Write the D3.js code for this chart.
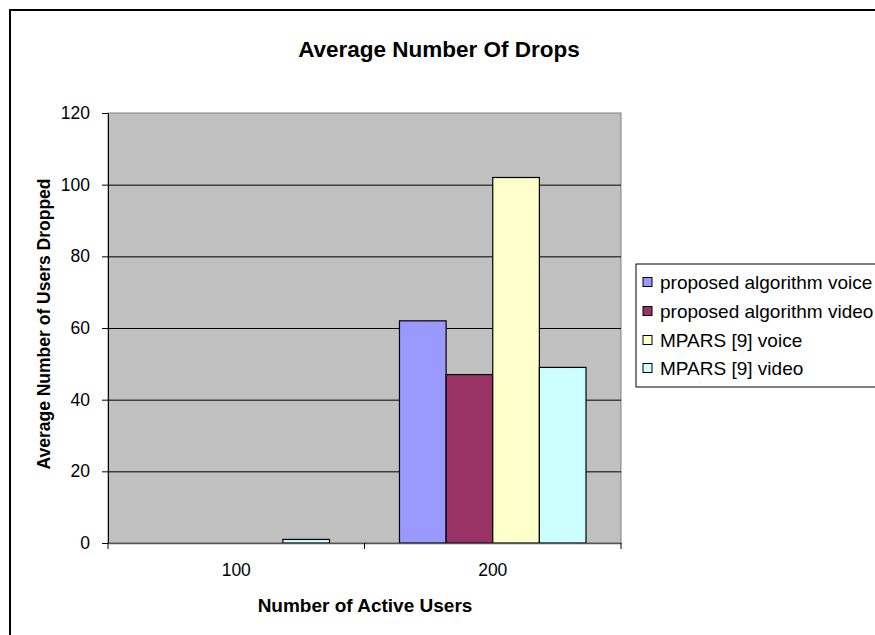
<html>
<head>
  <script src="https://d3js.org/d3.v7.min.js"></script>
  <style>
    body { margin: 0; background: #fff; }
    svg text { font-family: Arial, "Liberation Sans", sans-serif; }
    .tick text { font-size: 17.5px; fill: #000; }
    .gridlines line { stroke: #000; }
    .gridlines .domain { stroke: none; }
  </style>
</head>
<body>
<svg id="chart" width="875" height="635"></svg>
<script>
  // data
  const categories = ["100", "200"];
  const seriesNames = ["proposed algorithm voice", "proposed algorithm video", "MPARS [9] voice", "MPARS [9] video"];
  const seriesColors = ["#9999FF", "#993366", "#FFFFCC", "#CCFFFF"];
  const values = [
    [0, 62],   // proposed algorithm voice
    [0, 47],   // proposed algorithm video
    [0, 102],  // MPARS [9] voice
    [1, 49]    // MPARS [9] video
  ];
  const yTicks = [0, 20, 40, 60, 80, 100, 120];

  const svg = d3.select("svg#chart");
  const plot = {left: 108, top: 113, right: 621, bottom: 543};

  // outer frame (runs off the page on the right and bottom)
  svg.append("rect").attr("x", 10).attr("y", 10).attr("width", 900).attr("height", 700)
     .attr("fill", "#fff").attr("stroke", "#000").attr("stroke-width", 2);

  const x0 = d3.scaleBand().domain(categories).range([plot.left, plot.right]).padding(0);
  const bw = x0.bandwidth();
  const x1 = d3.scaleBand().domain(seriesNames)
               .range([bw * 0.75 / 5.5, bw * 4.75 / 5.5]).padding(0);
  const y = d3.scaleLinear().domain([0, 120]).range([plot.bottom, plot.top]);

  // plot background
  svg.append("rect").attr("x", plot.left).attr("y", plot.top)
     .attr("width", plot.right - plot.left).attr("height", plot.bottom - plot.top)
     .attr("fill", "#C0C0C0").attr("stroke", "#808080").attr("stroke-width", 1);

  // gridlines
  svg.append("g").attr("class", "gridlines")
     .attr("transform", "translate(" + plot.left + ",0)")
     .call(d3.axisLeft(y).tickValues(yTicks.slice(1, -1)).tickFormat("").tickSize(-(plot.right - plot.left)));

  // bars
  seriesNames.forEach((s, si) => {
    svg.append("g").selectAll("rect")
       .data(categories)
       .join("rect")
       .attr("x", c => x0(c) + x1(s))
       .attr("y", (c, ci) => y(values[si][ci]))
       .attr("width", x1.bandwidth())
       .attr("height", (c, ci) => y(0) - y(values[si][ci]))
       .attr("fill", seriesColors[si])
       .attr("stroke", "#000")
       .attr("stroke-width", 1.2)
       .style("display", (c, ci) => values[si][ci] > 0 ? null : "none");
  });

  // y axis
  let leftAxis = svg.append("g").attr("transform", "translate(" + plot.left + ",0)")
     .call(d3.axisLeft(y).tickValues(yTicks).tickSize(6).tickPadding(12).tickSizeOuter(0));
  leftAxis.select(".domain").attr("stroke", "#000");
  leftAxis.selectAll(".tick line").attr("stroke", "#000");

  // x axis: ticks at category boundaries
  let bottomAxis = svg.append("g").attr("transform", "translate(0," + plot.bottom + ")")
     .call(d3.axisBottom(x0).tickSize(0).tickPadding(21));
  bottomAxis.select(".domain").attr("stroke", "#555").attr("stroke-width", 1.5);
  bottomAxis.selectAll(".tick text").attr("dy", "0.71em");
  const bounds = categories.map(c => x0(c)).concat([x0(categories[categories.length - 1]) + bw]);
  bottomAxis.selectAll("line.bound").data(bounds).join("line").attr("class", "bound")
     .attr("x1", d => d).attr("x2", d => d).attr("y1", 0).attr("y2", 6)
     .attr("stroke", "#000");

  // titles
  svg.append("text").attr("x", 439).attr("y", 57).attr("text-anchor", "middle")
     .style("font-size", "22.5px").style("font-weight", "bold").text("Average Number Of Drops");
  svg.append("text").attr("x", 365).attr("y", 612).attr("text-anchor", "middle")
     .style("font-size", "19px").style("font-weight", "bold").text("Number of Active Users");
  svg.append("text").attr("transform", "translate(50,324) rotate(-90)").attr("text-anchor", "middle")
     .style("font-size", "17.5px").style("font-weight", "bold").text("Average Number of Users Dropped");

  // legend
  const legend = svg.append("g").attr("transform", "translate(636,264)");
  legend.append("rect").attr("x", 0).attr("y", 0).attr("width", 300).attr("height", 123)
     .attr("fill", "#fff").attr("stroke", "#000").attr("stroke-width", 1);
  const rowCenters = [18, 47, 76, 104];
  seriesNames.forEach((s, i) => {
    legend.append("rect").attr("x", 7).attr("y", rowCenters[i] - 4.5).attr("width", 9).attr("height", 9)
       .attr("fill", seriesColors[i]).attr("stroke", "#000").attr("stroke-width", 1);
    legend.append("text").attr("x", 24).attr("y", rowCenters[i] + 6.5)
       .style("font-size", "19px").text(s);
  });
</script>
</body>
</html>
